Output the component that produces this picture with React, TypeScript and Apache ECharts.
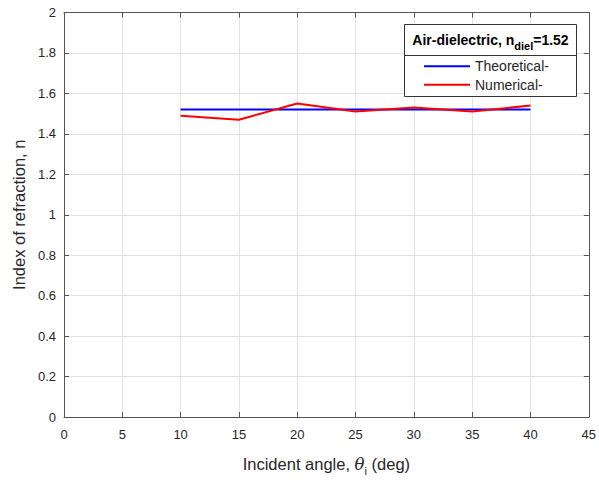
import React, { useEffect, useRef } from "react";
import * as echarts from "echarts";

const angles = [10, 15, 20, 25, 30, 35, 40];
const theoretical = [1.52, 1.52, 1.52, 1.52, 1.52, 1.52, 1.52];
const numerical = [1.49, 1.47, 1.55, 1.51, 1.53, 1.51, 1.54];
const seriesNames = ["Theoretical-", "Numerical-"];
const legendTitle = "Air-dielectric, n";

const FONT = "Liberation Sans, Arial, Helvetica, sans-serif";
const TXT = "#262626";
const AXC = "#555555";
const GRIDC = "#e3e3e3";

export default function App() {
  const ref = useRef<HTMLDivElement>(null);
  useEffect(() => {
    const chart = echarts.init(ref.current!, null, { renderer: "svg" });
    const tickStyle = { fontSize: 13, color: TXT, fontFamily: FONT };
    const hiddenAxis = {
      axisLine: { show: true, onZero: false, lineStyle: { color: AXC, width: 1 } },
      axisTick: { show: true, inside: true, length: 5, lineStyle: { color: AXC } },
      axisLabel: { show: false },
      splitLine: { show: false },
    };
    chart.setOption({
      animation: false,
      backgroundColor: "#ffffff",
      textStyle: { fontFamily: FONT },
      grid: { left: 64, top: 12.5, width: 527, height: 411 },
      xAxis: [
        {
          type: "value", min: 0, max: 45, interval: 5,
          name: "Incident angle, {it|θ}{sub|i} (deg)",
          nameLocation: "middle", nameGap: 35,
          nameTextStyle: {
            fontSize: 16.5, color: TXT, fontFamily: FONT,
            rich: {
              it: { fontSize: 16.5, fontStyle: "italic", fontFamily: "DejaVu Serif, serif", color: TXT },
              sub: { fontSize: 11, color: TXT, fontFamily: FONT, padding: [13, 0, 0, 0] },
            },
          },
          axisLine: { show: true, onZero: false, lineStyle: { color: AXC, width: 1 } },
          axisTick: { show: true, inside: true, length: 5, lineStyle: { color: AXC } },
          axisLabel: { ...tickStyle, margin: 11 },
          splitLine: { show: true, lineStyle: { color: GRIDC, width: 1 } },
        },
        { type: "value", min: 0, max: 45, interval: 5, position: "top", ...hiddenAxis },
      ],
      yAxis: [
        {
          type: "value", min: 0, max: 2, interval: 0.2,
          name: "Index of refraction, n",
          nameLocation: "middle", nameGap: 36,
          nameTextStyle: { fontSize: 16.5, color: TXT, fontFamily: FONT },
          axisLine: { show: true, onZero: false, lineStyle: { color: AXC, width: 1 } },
          axisTick: { show: true, inside: true, length: 5, lineStyle: { color: AXC } },
          axisLabel: {
            ...tickStyle, margin: 8,
            formatter: (v: number) => String(Math.round(v * 10) / 10),
          },
          splitLine: { show: true, lineStyle: { color: GRIDC, width: 1 } },
        },
        { type: "value", min: 0, max: 2, interval: 0.2, position: "right", ...hiddenAxis },
      ],
      legend: {
        orient: "vertical",
        left: 424,
        top: 58.3,
        z: 20,
        padding: 0,
        itemWidth: 46,
        itemHeight: 2,
        itemGap: 2.4,
        icon: "rect",
        textStyle: { fontSize: 14, color: TXT, fontFamily: FONT, lineHeight: 16, height: 16 },
        data: seriesNames,
      },
      graphic: [
        {
          type: "rect",
          shape: { x: 404.5, y: 24.5, width: 172, height: 72 },
          style: { fill: "#fff", stroke: "#333333", lineWidth: 1 },
          z: 5,
        },
        {
          type: "line",
          shape: { x1: 404.5, y1: 55.5, x2: 576.5, y2: 55.5 },
          style: { stroke: "#333333", lineWidth: 1 },
          z: 6,
        },
        {
          type: "text",
          x: 490.5, y: 40,
          z: 6,
          style: {
            text: legendTitle + "{sub|diel}=1.52",
            fontSize: 14, fontWeight: "bold", fill: "#000", fontFamily: FONT,
            align: "center", verticalAlign: "middle",
            rich: {
              sub: { fontSize: 11, fontWeight: "bold", fill: "#000", fontFamily: FONT, padding: [11, 0, 0, 0] },
            },
          },
        },
      ],
      series: [
        {
          name: seriesNames[0], type: "line", xAxisIndex: 0, yAxisIndex: 0,
          data: angles.map((a, i) => [a, theoretical[i]]),
          showSymbol: false, symbol: "none",
          lineStyle: { color: "#0000ff", width: 2 }, itemStyle: { color: "#0000ff" },
          z: 3,
        },
        {
          name: seriesNames[1], type: "line", xAxisIndex: 0, yAxisIndex: 0,
          data: angles.map((a, i) => [a, numerical[i]]),
          showSymbol: false, symbol: "none",
          lineStyle: { color: "#ff0000", width: 2 }, itemStyle: { color: "#ff0000" },
          z: 4,
        },
      ],
    });
    return () => chart.dispose();
  }, []);
  return (
    <div
      ref={ref}
      style={{ position: "fixed", left: 0, top: 0, width: 599, height: 481 }}
    />
  );
}
